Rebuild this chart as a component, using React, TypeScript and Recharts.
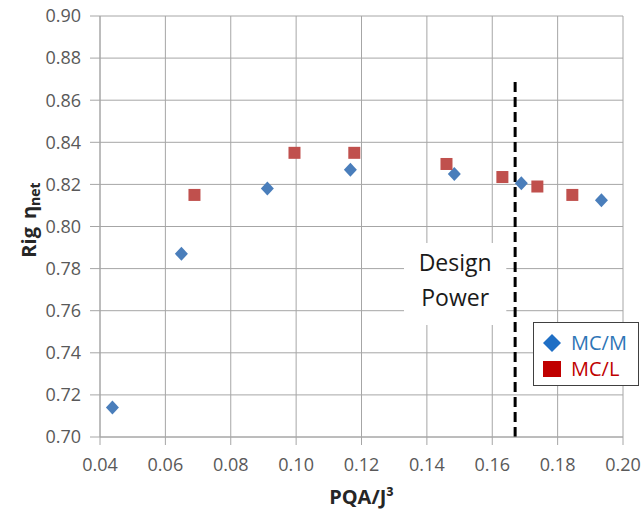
import {
  ScatterChart,
  Scatter,
  XAxis,
  YAxis,
  CartesianGrid,
  ReferenceLine,
  ReferenceArea,
  Label,
} from "recharts";

// axis ticks
const xTicks = [0.04, 0.06, 0.08, 0.1, 0.12, 0.14, 0.16, 0.18, 0.2];
const yTicks = [0.7, 0.72, 0.74, 0.76, 0.78, 0.8, 0.82, 0.84, 0.86, 0.88, 0.9];

// MC/M series (diamonds)
const mcmX = [0.0438, 0.0649, 0.0912, 0.1166, 0.1484, 0.1689, 0.1934];
const mcmY = [0.714, 0.787, 0.818, 0.827, 0.825, 0.8205, 0.8125];

// MC/L series (squares)
const mclX = [0.0689, 0.0995, 0.1178, 0.146, 0.1631, 0.1738, 0.1845];
const mclY = [0.815, 0.835, 0.835, 0.8297, 0.8235, 0.819, 0.815];

// design power marker + text box
const designPowerX = 0.167;
const designLineY = [0.7, 0.87];
const designBoxX = [0.133, 0.1643];
const designBoxY = [0.7532, 0.7922];

const mcmData = mcmX.map((x, i) => ({ x, y: mcmY[i] }));
const mclData = mclX.map((x, i) => ({ x, y: mclY[i] }));

const FONT = "'Open Sans', sans-serif";
const GRID = "#a6a6a6";

const Diamond = (props: any) => {
  const { cx, cy } = props;
  if (cx == null || cy == null) return null;
  return (
    <polygon
      points={`${cx},${cy - 7} ${cx + 6.5},${cy} ${cx},${cy + 7} ${cx - 6.5},${cy}`}
      fill="#4a7ebb"
    />
  );
};

const Square = (props: any) => {
  const { cx, cy } = props;
  if (cx == null || cy == null) return null;
  return <rect x={cx - 6} y={cy - 6} width={12} height={12} fill="#c0504d" />;
};

const YTitle = (props: any) => {
  const vb = props.viewBox || { x: 0, y: 16, width: 100, height: 421 };
  const x = vb.x + 28;
  const y = 220;
  return (
    <text
      x={x}
      y={y}
      transform={`rotate(-90, ${x}, ${y})`}
      textAnchor="middle"
      dominantBaseline="central"
      fontFamily={FONT}
      fontWeight="bold"
      fontSize={20}
      fill="#262626"
    >
      <tspan>Rig</tspan>
      <tspan dx={8}>η</tspan>
      <tspan fontSize={14} dy={6}>net</tspan>
    </text>
  );
};

const XTitle = (props: any) => {
  const vb = props.viewBox;
  if (!vb) return null;
  return (
    <text
      x={vb.x + vb.width / 2}
      y={504}
      textAnchor="middle"
      fontFamily={FONT}
      fontWeight="bold"
      fontSize={20}
      fill="#262626"
    >
      PQA/J³
    </text>
  );
};

const DesignText = (props: any) => {
  const vb = props.viewBox;
  if (!vb) return null;
  const cx = vb.x + vb.width / 2;
  return (
    <text textAnchor="middle" fontFamily={FONT} fontSize={23} fill="#1a1a1a">
      <tspan x={cx} y={vb.y + 28}>Design</tspan>
      <tspan x={cx} y={vb.y + 63}>Power</tspan>
    </text>
  );
};

export default function App() {
  return (
    <div style={{ position: "absolute", left: 0, top: 0, width: 644, height: 511, background: "#fff" }}>
      <ScatterChart
        width={644}
        height={511}
        margin={{ top: 16, right: 21, bottom: 0, left: 0 }}
      >
        <CartesianGrid stroke={GRID} strokeWidth={1} />
        <XAxis
          type="number"
          dataKey="x"
          domain={[0.04, 0.2]}
          ticks={xTicks}
          tickFormatter={(v: number) => v.toFixed(2)}
          height={74}
          tickSize={8}
          tickMargin={13}
          stroke={GRID}
          tick={{ fill: "#595959", fontSize: 18, fontFamily: FONT }}
          allowDataOverflow
        >
          <Label content={<XTitle />} />
        </XAxis>
        <YAxis
          type="number"
          dataKey="y"
          domain={[0.7, 0.9]}
          ticks={yTicks}
          tickFormatter={(v: number) => v.toFixed(2)}
          width={100}
          tickSize={10}
          tickMargin={9}
          stroke={GRID}
          tick={{ fill: "#595959", fontSize: 18, fontFamily: FONT }}
          allowDataOverflow
        >
          <Label content={<YTitle />} />
        </YAxis>
        <ReferenceArea
          x1={designBoxX[0]}
          x2={designBoxX[1]}
          y1={designBoxY[0]}
          y2={designBoxY[1]}
          fill="#ffffff"
          fillOpacity={1}
          stroke="none"
          label={<DesignText />}
        />
        <ReferenceLine
          segment={[
            { x: designPowerX, y: designLineY[0] },
            { x: designPowerX, y: designLineY[1] },
          ]}
          stroke="#000"
          strokeWidth={3}
          strokeDasharray="10 5"
        />
        <Scatter name="MC/M" data={mcmData} shape={<Diamond />} isAnimationActive={false} />
        <Scatter name="MC/L" data={mclData} shape={<Square />} isAnimationActive={false} />
      </ScatterChart>
      <div
        style={{
          position: "absolute",
          left: 533,
          top: 322,
          width: 106,
          height: 64,
          boxSizing: "border-box",
          border: "1.5px solid #404040",
          background: "#fff",
          fontFamily: FONT,
          fontSize: 20,
        }}
      >
        <div style={{ position: "absolute", left: 8, top: 10, display: "flex", alignItems: "center", height: 20 }}>
          <svg width={20} height={18} style={{ marginRight: 9 }}>
            <polygon points="10,0 19,9 10,18 1,9" fill="#1f6fc5" />
          </svg>
          <span style={{ color: "#2e75b6", lineHeight: "20px" }}>MC/M</span>
        </div>
        <div style={{ position: "absolute", left: 8, top: 36, display: "flex", alignItems: "center", height: 20 }}>
          <svg width={20} height={18} style={{ marginRight: 9 }}>
            <rect x={1} y={1} width={18} height={16} fill="#c00000" />
          </svg>
          <span style={{ color: "#c00000", lineHeight: "20px" }}>MC/L</span>
        </div>
      </div>
    </div>
  );
}
